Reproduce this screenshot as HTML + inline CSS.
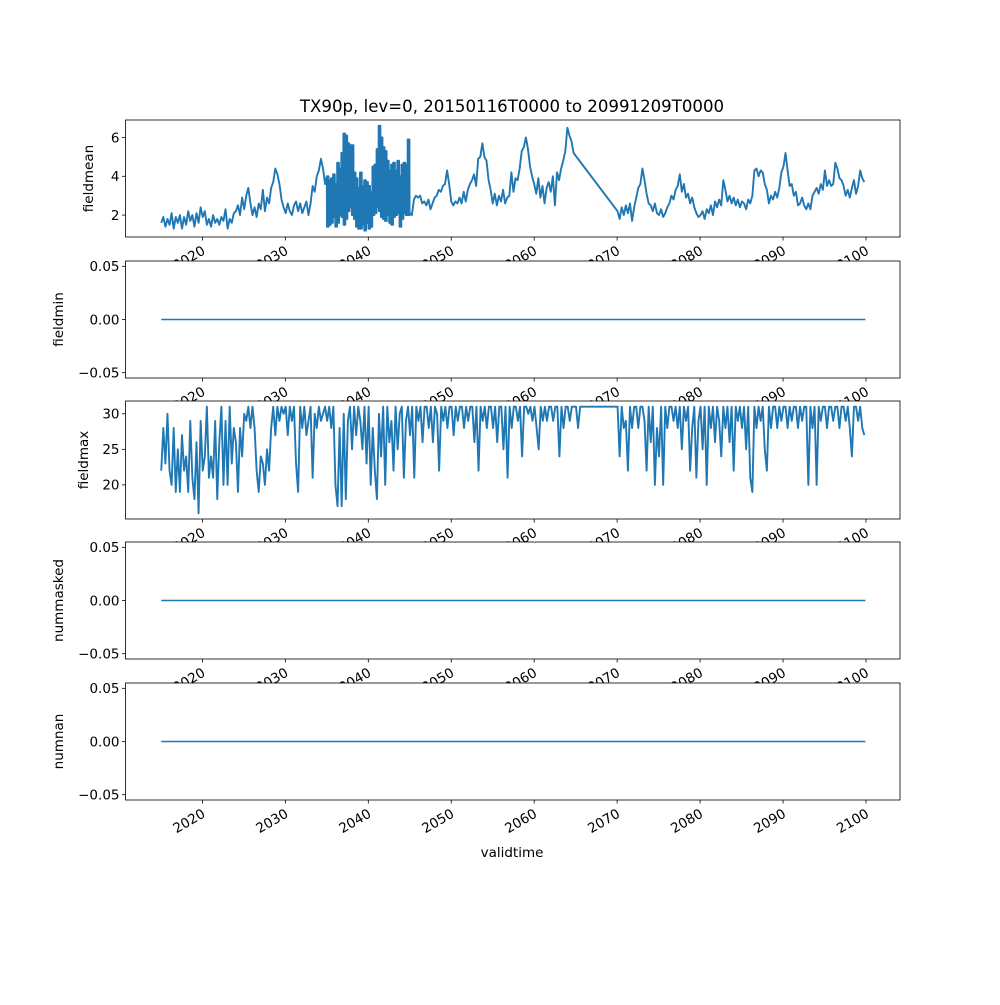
<!DOCTYPE html>
<html><head><meta charset="utf-8"><style>
body{margin:0;background:#fff;}
svg text{font-family:"DejaVu Sans","Liberation Sans",sans-serif;fill:#000;}
</style></head><body>
<svg id="fig" width="1000" height="1000" viewBox="0 0 1000 1000" xmlns="http://www.w3.org/2000/svg">
<rect width="1000" height="1000" fill="#fff"/>
<text x="512" y="112" text-anchor="middle" font-size="16.6">TX90p, lev=0, 20150116T0000 to 20991209T0000</text>
<text x="512" y="857" text-anchor="middle" font-size="13.5">validtime</text>
</svg>
<script>
const xTicks=[2020,2030,2040,2050,2060,2070,2080,2090,2100];
const meanA=[1.6,1.9,1.4,1.8,1.5,2.1,1.3,1.9,1.6,2.0,1.3,1.9,1.5,2.2,1.7,2.0,1.4,2.1,1.6,2.4,1.9,2.2,1.5,1.8,1.4,2.0,1.6,1.8,1.5,1.9,1.7,2.3,1.3,1.8,1.6,2.1,2.2,2.5,2.0,2.9,2.3,3.0,3.4,2.6,2.0,2.4,1.9,2.6,2.3,3.3,2.2,2.9,2.6,3.4,3.7,4.4,4.1,3.6,2.8,2.4,2.1,2.6,2.2,2.0,2.5,2.7,2.2,2.6,2.1,2.4,2.7,2.0,2.6,3.5,3.2,4.0,4.3,4.9,4.4,3.6];
const meanHigh=[4.0,3.8,3.9,4.1,3.6,4.7,4.4,5.2,6.2,6.1,5.7,5.6,5.6,4.2,3.9,3.4,4.2,3.5,3.8,3.7,3.5,3.2,4.5,4.6,5.4,6.6,6.0,5.5,5.3,4.8,4.3,4.6,4.7,4.3,4.8,4.0,4.6,4.7,4.6,5.9];
const meanLow=[1.4,1.5,1.6,1.9,1.4,1.6,2.0,1.9,1.5,1.8,2.2,2.4,2.0,1.8,1.4,1.3,1.3,1.5,1.2,1.6,1.3,1.4,2.0,2.1,2.4,2.2,1.9,1.8,1.7,2.0,1.6,1.5,1.9,2.0,2.1,1.4,1.8,2.1,2.0,2.0];
const meanC=[2.1,2.0,2.8,3.0,2.9,3.0,2.6,2.7,2.5,2.8,2.3,2.6,2.9,3.0,3.3,3.2,3.5,3.6,4.3,3.6,2.7,2.5,2.7,2.6,2.9,2.6,3.2,2.7,3.3,3.6,3.8,4.1,3.5,4.9,5.0,5.7,5.0,4.8,3.8,3.3,2.6,3.1,2.5,3.0,2.7,3.3,2.6,2.9,3.0,4.2,3.2,3.9,3.8,4.4,5.3,5.5,6.0,5.4,4.5,4.0,3.6,3.1,3.9,2.9,3.5,2.6,3.4,3.7,3.2,4.0,2.5,4.2,3.8,4.4,4.8,5.3,6.5,6.1,5.8,5.2];
const meanD=[2.2,1.8,2.4,2.0,2.5,2.1,2.6,1.7,2.4,2.9,3.4,3.6,4.4,3.8,3.1,2.6,2.5,2.2,2.6,2.1,2.0,2.3,1.9,2.1,2.4,2.6,3.0,2.8,3.3,3.5,4.1,3.2,3.6,2.9,3.1,2.6,2.9,2.4,2.1,1.9,2.0,2.2,1.8,2.3,2.1,2.5,2.0,2.7,2.4,2.8,2.5,3.8,3.3,2.7,3.0,2.6,2.9,2.5,2.8,2.4,2.7,2.6,2.3,2.8,2.6,3.0,4.3,4.4,4.0,4.3,4.2,3.6,3.3,2.6,3.0,2.8,3.2,2.9,3.4,4.2,4.5,5.2,4.3,3.5,3.6,3.0,3.2,2.5,2.6,2.9,2.5,2.3,2.6,2.3,3.0,3.2,3.4,3.1,3.6,3.3,4.3,3.5,3.8,3.5,3.6,4.7,4.4,3.9,3.8,3.5,3.0,3.3,2.9,3.4,3.8,3.1,3.5,4.3,3.9,3.7];
const maxA=[22,28,23,30,22,20,28,19,25,19,27,22,24,19,29,21,18,26,16,29,22,24,31,21,24,21,29,18,26,31,20,29,20,31,23,28,26,19,28,24,30,29,31,28,31,28,22,19,24,23,20,25,22,28,31,27,31,29,31,30,31,27,31,29,31,23,19,31,28,31,27,29,31,21,30,28,31,29,30,31,29,31,28,31,20,17,28,17,30,18,29,31,25,31,27,31,29,25,31,23,31,20,28,22,18,30,24,31,20,31,26,29,22,31,25,30,31,21,29,31,27,31,21,31,29,31,26,31,31,28,31,26,31,30,22,31,29,31,28,31,31,27,31,29,31,31,28,31,29,31,31,26,31,22,31,29,31,28,31,31,28,31,26,31,31,25,31,21,31,28,31,31,29,31,24,31,31,30,31,29,31,28,25,31,29,31,29,31,31,29,31,31,24,31,28,31,31,29,31,31,31,28,31,31];
const maxD=[31,24,31,28,29,22,31,28,31,31,28,31,31,29,22,31,26,31,20,28,24,31,20,31,28,31,31,29,31,28,31,25,31,29,31,22,28,31,21,29,31,25,31,20,31,28,31,26,31,29,24,31,28,31,26,31,22,31,29,31,28,31,25,31,21,19,31,28,31,29,31,25,22,31,28,31,31,28,31,29,31,31,28,31,29,31,31,28,31,29,31,31,20,31,28,31,20,31,29,31,31,28,31,31,29,31,31,28,31,31,29,31,28,24,31,31,29,31,28,27];
const zeroSeries=[0,0];
const panels=[
 {name:'fieldmean',top:120,bot:237,ymin:0.87,ymax:6.9,ticks:[2,4,6],labels:['2','4','6'],lx:93},
 {name:'fieldmin',top:261,bot:378,ymin:-0.055,ymax:0.055,ticks:[-0.05,0,0.05],labels:['−0.05','0.00','0.05'],lx:63},
 {name:'fieldmax',top:401,bot:519,ymin:15.2,ymax:31.8,ticks:[20,25,30],labels:['20','25','30'],lx:88},
 {name:'nummasked',top:542,bot:659,ymin:-0.055,ymax:0.055,ticks:[-0.05,0,0.05],labels:['−0.05','0.00','0.05'],lx:63},
 {name:'numnan',top:683,bot:800,ymin:-0.055,ymax:0.055,ticks:[-0.05,0,0.05],labels:['−0.05','0.00','0.05'],lx:63}
];
const L=125.5,R=900,X0=2010.73,X1=2104.1;
const sx=t=>L+(t-X0)/(X1-X0)*(R-L);
const NS='http://www.w3.org/2000/svg';
const svg=document.getElementById('fig');
function mk(tag,at,parent){const e=document.createElementNS(NS,tag);for(const k in at)e.setAttribute(k,at[k]);(parent||svg).appendChild(e);return e;}
function seriesFor(i){
 let pts=[];
 if(i===0){
  meanA.forEach((v,k)=>pts.push([2015.04+k*0.25,v]));
  meanHigh.forEach((v,k)=>{for(let j=0;j<6;j++){pts.push([2035+k*0.25+j*0.0417,v]);pts.push([2035.02+k*0.25+j*0.0417,meanLow[k]]);}});
  meanC.forEach((v,k)=>pts.push([2045+k*0.25,v]));
  meanD.forEach((v,k)=>pts.push([2070.05+k*0.25,v]));
 } else if(i===2){
  maxA.forEach((v,k)=>pts.push([2015.04+k*0.25,v]));
  maxD.forEach((v,k)=>pts.push([2070.05+k*0.25,v]));
 } else {
  pts=[[2015.04,zeroSeries[0]],[2099.93,zeroSeries[1]]];
 }
 return pts;
}
panels.forEach((p,i)=>{
 const g=mk('g',{});
 
 
 const sy=v=>p.bot-(v-p.ymin)/(p.ymax-p.ymin)*(p.bot-p.top);
 const bg=mk('rect',{x:L,y:p.top,width:R-L,height:p.bot-p.top,fill:'#fff'},g);
 
 
 const pts=seriesFor(i);
 const line=mk('path',{d:pts.map((q,k)=>(k?'L':'M')+sx(q[0]).toFixed(2)+' '+sy(q[1]).toFixed(2)).join(''),fill:'none',stroke:'#1f77b4','stroke-width':(i===0||i===2)?1.9:1.5,'stroke-linejoin':'round'},g);
 
 
 const fr=mk('rect',{x:L,y:p.top,width:R-L,height:p.bot-p.top,fill:'none',stroke:'#000','stroke-width':0.8},g);
 
 
 p.ticks.forEach((t,k)=>{
  const y=sy(t);
  mk('line',{x1:L-3.5,x2:L,y1:y,y2:y,stroke:'#000','stroke-width':0.8},g);
  const tl=mk('text',{x:L-6,y:y+4.8,'text-anchor':'end','font-size':13.5},g);
  
  
  tl.textContent=p.labels[k];
 });
 const yl=mk('text',{x:p.lx,y:(p.top+p.bot)/2,'text-anchor':'middle','font-size':13.5,transform:'rotate(-90 '+p.lx+' '+(p.top+p.bot)/2+')'},g);
 
 
 yl.textContent=p.name;
 xTicks.forEach(t=>{
  const x=sx(t);
  mk('line',{x1:x,x2:x,y1:p.bot,y2:p.bot+3.5,stroke:'#000','stroke-width':0.8},g);
  const xl=mk('text',{'text-anchor':'end','font-size':13.5,'dominant-baseline':'hanging',transform:'translate('+(x-1)+' '+(p.bot+8)+') rotate(-30)'},g);
  
  
  xl.textContent=t;
 });
});
</script>
</body></html>
